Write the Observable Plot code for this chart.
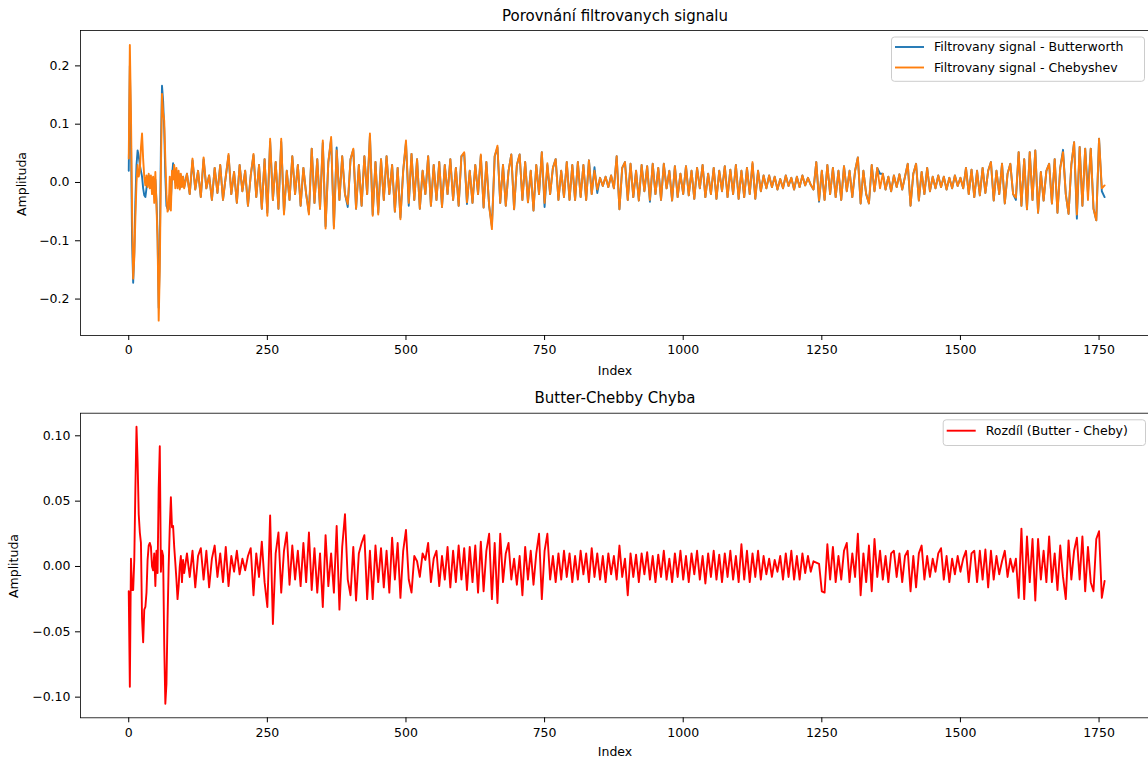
<!DOCTYPE html>
<html>
<head>
<meta charset="utf-8">
<script src="https://cdn.jsdelivr.net/npm/d3@7"></script>
<script src="https://cdn.jsdelivr.net/npm/@observablehq/plot@0.6"></script>
<style>
  body { margin: 0; background: #fff; }
  #fig { position: relative; width: 1148px; height: 758px; overflow: hidden; background: #fff; }
  #fig > svg { position: absolute; left: 0; }
  #overlay { top: 0; pointer-events: none; font-family: "DejaVu Sans", sans-serif; }
</style>
</head>
<body>
<div id="fig"></div>
<script>
// Sample positions: every 2nd sample through the onset, then every 5th
const onsetIndex = d3.range(0, 101, 2);
const bodyIndex = d3.range(105, 1761, 5);

// Chebyshev-filtered signal
const chebyOnset = [
  0.041, 0.236, 0.12, -0.05, -0.165, -0.13, -0.06, 0.0, 0.03, 0.01,
  0.02, 0.06, 0.084, 0.04, 0.01, -0.005, 0.012, -0.008, 0.015, -0.01,
  0.012, -0.02, 0.01, -0.035, 0.018, -0.04, -0.1, -0.237, -0.15, 0.02,
  0.152, 0.12, 0.106, 0.04, -0.02, -0.05, -0.045, 0.01, -0.048, 0.02,
  0.005, 0.03, -0.01, 0.025, -0.01, 0.02, -0.012, 0.015, -0.008, 0.01,
  -0.01
];
const chebyBody = [
  0.015, -0.02, 0.041, -0.012, 0.02, -0.025, 0.043, -0.01, 0.012, -0.03,
  0.025, -0.018, 0.03, -0.03, 0.01, 0.049, -0.02, 0.018, -0.035, 0.03,
  -0.015, 0.02, -0.04, 0.012, 0.049, -0.025, 0.03, -0.045, 0.04, -0.057,
  0.075, -0.03, 0.035, -0.045, 0.075, -0.055, 0.02, -0.03, 0.045, -0.02,
  0.03, -0.04, 0.025, -0.02, -0.055, 0.058, -0.035, 0.04, -0.045, 0.072,
  -0.079, 0.035, 0.078, -0.079, 0.055, -0.03, 0.045, -0.02, -0.037, 0.04,
  0.058, -0.045, 0.03, -0.04, 0.045, -0.02, 0.084, -0.057, 0.035, -0.055,
  0.04, -0.03, 0.045, -0.02, 0.03, -0.05, 0.025, -0.063, 0.02, 0.072,
  -0.035, 0.049, -0.03, 0.04, -0.045, 0.02, -0.02, 0.045, -0.04, 0.03,
  -0.03, 0.035, -0.042, 0.03, -0.02, 0.04, -0.03, 0.025, -0.04, 0.045,
  0.052, -0.034, 0.02, -0.035, 0.03, -0.02, 0.048, -0.043, 0.035, -0.04,
  -0.08, 0.045, 0.063, -0.035, 0.03, -0.04, 0.02, 0.048, -0.046, 0.03,
  0.048, -0.03, 0.035, -0.034, 0.02, -0.048, 0.03, -0.02, 0.052, -0.035,
  0.033, -0.02, 0.025, 0.04, -0.03, 0.02, -0.025, 0.035, -0.03, 0.03,
  -0.03, 0.035, -0.025, 0.03, -0.03, 0.038, -0.02, 0.02, -0.012, 0.008,
  -0.006, 0.01, -0.008, 0.012, -0.01, 0.045, -0.046, 0.025, 0.035, -0.03,
  0.032, -0.025, 0.02, -0.031, 0.03, -0.015, 0.028, -0.03, 0.032, -0.02,
  0.025, -0.03, 0.032, -0.01, 0.02, -0.031, 0.028, -0.025, 0.015, -0.02,
  0.028, -0.022, 0.02, -0.028, 0.025, -0.01, 0.03, -0.025, 0.015, -0.02,
  0.025, -0.028, 0.02, -0.015, 0.028, -0.025, 0.022, -0.02, 0.03, -0.028,
  0.02, -0.025, 0.025, -0.02, 0.035, -0.028, 0.02, -0.015, 0.012, -0.01,
  0.012, -0.008, 0.01, -0.012, 0.006, -0.01, 0.012, -0.006, 0.008, -0.012,
  0.01, -0.008, 0.012, -0.005, 0.008, -0.004, -0.012, 0.035, -0.031, 0.02,
  -0.03, 0.03, -0.02, 0.025, -0.025, 0.02, -0.03, 0.028, -0.015, 0.02,
  -0.025, 0.02, 0.043, -0.036, 0.02, -0.02, -0.036, 0.03, -0.015, 0.025,
  -0.01, 0.015, -0.012, 0.01, -0.015, 0.012, -0.008, 0.014, -0.012, 0.01,
  0.032, -0.04, 0.015, 0.032, -0.031, 0.018, -0.02, 0.025, -0.015, 0.01,
  -0.01, 0.012, -0.008, 0.01, -0.012, 0.008, -0.01, 0.012, -0.006, 0.008,
  -0.01, 0.025, -0.02, 0.022, -0.025, 0.02, -0.022, 0.025, -0.018, 0.02,
  0.035, -0.031, 0.02, -0.02, 0.032, -0.036, 0.015, 0.032, -0.02, -0.026,
  0.052, -0.04, 0.04, -0.046, 0.052, -0.03, 0.055, -0.052, 0.018, -0.031,
  0.02, 0.032, -0.036, 0.04, -0.052, 0.025, 0.052, -0.02, -0.054, 0.03,
  0.069, -0.055, 0.061, -0.04, 0.058, -0.03, 0.058, -0.045, -0.065, 0.075,
  -0.01, -0.005
];

// Butterworth-filtered signal
const butterOnset = [
  0.02, 0.2, 0.08, -0.1, -0.172, -0.12, -0.03, 0.03, 0.055, 0.045,
  0.03, 0.02, 0.01, -0.01, -0.022, -0.025, -0.01, 0.005, 0.012, 0.005,
  0.005, -0.005, 0.008, -0.02, 0.005, -0.03, -0.09, -0.215, -0.12, 0.06,
  0.166, 0.14, 0.09, 0.01, -0.04, -0.045, -0.046, -0.02, -0.03, 0.01,
  0.033, 0.01, 0.0, 0.02, -0.005, 0.015, -0.01, 0.012, -0.006, 0.01,
  -0.008
];
const butterBody = [
  0.015, -0.02, 0.038, -0.012, 0.02, -0.025, 0.04, -0.01, 0.012, -0.03,
  0.025, -0.018, 0.03, -0.03, 0.01, 0.046, -0.02, 0.018, -0.035, 0.03,
  -0.015, 0.02, -0.04, 0.012, 0.047, -0.025, 0.03, -0.045, 0.04, -0.052,
  0.07, -0.03, 0.035, -0.045, 0.07, -0.052, 0.02, -0.03, 0.045, -0.02,
  0.03, -0.04, 0.025, -0.02, -0.052, 0.058, -0.035, 0.04, -0.045, 0.068,
  -0.075, 0.035, 0.074, -0.075, 0.06, -0.03, 0.045, -0.02, -0.042, 0.04,
  0.056, -0.045, 0.03, -0.04, 0.045, -0.02, 0.08, -0.055, 0.035, -0.052,
  0.04, -0.03, 0.045, -0.02, 0.03, -0.05, 0.025, -0.06, 0.02, 0.068,
  -0.04, 0.049, -0.03, 0.04, -0.045, 0.02, -0.02, 0.045, -0.04, 0.03,
  -0.03, 0.035, -0.042, 0.03, -0.02, 0.04, -0.03, 0.025, -0.04, 0.045,
  0.05, -0.037, 0.02, -0.035, 0.03, -0.02, 0.046, -0.043, 0.035, -0.04,
  -0.075, 0.045, 0.06, -0.035, 0.03, -0.04, 0.02, 0.048, -0.046, 0.03,
  0.048, -0.03, 0.035, -0.034, 0.02, -0.048, 0.03, -0.02, 0.052, -0.042,
  0.03, -0.02, 0.025, 0.04, -0.03, 0.02, -0.025, 0.035, -0.03, 0.03,
  -0.03, 0.035, -0.025, 0.03, -0.03, 0.038, -0.02, 0.026, -0.018, 0.008,
  -0.006, 0.01, -0.008, 0.012, -0.01, 0.045, -0.046, 0.025, 0.035, -0.03,
  0.032, -0.025, 0.02, -0.031, 0.03, -0.015, 0.028, -0.033, 0.032, -0.02,
  0.025, -0.03, 0.032, -0.01, 0.02, -0.031, 0.028, -0.025, 0.015, -0.02,
  0.028, -0.022, 0.02, -0.028, 0.025, -0.01, 0.03, -0.025, 0.015, -0.02,
  0.025, -0.028, 0.02, -0.015, 0.028, -0.025, 0.022, -0.02, 0.03, -0.028,
  0.02, -0.025, 0.025, -0.02, 0.032, -0.028, 0.02, -0.015, 0.012, -0.01,
  0.012, -0.008, 0.01, -0.012, 0.006, -0.01, 0.012, -0.006, 0.008, -0.012,
  0.01, -0.008, 0.012, -0.005, 0.008, -0.004, -0.012, 0.035, -0.033, 0.02,
  -0.03, 0.03, -0.02, 0.025, -0.025, 0.02, -0.03, 0.028, -0.015, 0.02,
  -0.025, 0.02, 0.043, -0.036, 0.02, -0.02, -0.036, 0.03, -0.015, 0.025,
  0.015, 0.015, -0.012, 0.01, -0.015, 0.012, -0.008, 0.014, -0.012, 0.01,
  0.032, -0.04, 0.015, 0.032, -0.031, 0.018, -0.02, 0.025, -0.015, 0.01,
  -0.01, 0.012, -0.008, 0.01, -0.012, 0.008, -0.01, 0.012, -0.006, 0.008,
  -0.01, 0.025, -0.02, 0.022, -0.025, 0.02, -0.022, 0.025, -0.018, 0.02,
  0.035, -0.031, 0.02, -0.02, 0.032, -0.036, 0.015, 0.032, -0.02, -0.03,
  0.052, -0.04, 0.04, -0.046, 0.052, -0.03, 0.055, -0.052, 0.018, -0.031,
  0.02, 0.032, -0.036, 0.04, -0.052, 0.025, 0.056, -0.02, -0.054, 0.03,
  0.069, -0.062, 0.061, -0.04, 0.058, -0.018, 0.058, -0.045, -0.065, 0.075,
  -0.015, -0.025
];

// Difference Butterworth - Chebyshev
const diffOnset = [
  -0.019, -0.092, 0.006, -0.018, -0.018, 0.005, 0.06, 0.107, 0.08, 0.04,
  0.026, 0.018, -0.04, -0.058, -0.033, -0.031, -0.02, 0.005, 0.016, 0.018,
  0.015, 0.0, -0.003, 0.01, -0.015, 0.012, -0.005, 0.06, 0.092, -0.004,
  0.012, 0.008, -0.06, -0.105, -0.09, -0.04, 0.0, 0.03, 0.053, 0.03,
  0.031, 0.015, 0.003, -0.01, -0.025, -0.015, 0.0, 0.008, -0.012, 0.005,
  -0.005
];
const diffBody = [
  0.01, -0.008, 0.012, -0.016, 0.008, 0.014, -0.01, 0.012, -0.016, 0.006,
  0.016, -0.008, 0.01, -0.012, 0.015, -0.015, 0.008, -0.004, 0.012, -0.006,
  0.006, -0.003, 0.008, 0.014, -0.022, 0.01, -0.008, 0.019, -0.012, -0.031,
  0.039, -0.044, 0.01, 0.026, -0.02, 0.012, 0.026, -0.014, 0.016, -0.01,
  0.012, -0.015, 0.018, -0.012, 0.026, -0.018, 0.014, -0.02, 0.01, -0.031,
  0.024, -0.015, 0.01, -0.02, 0.031, -0.033, 0.015, 0.04, -0.01, -0.022,
  0.015, -0.026, 0.01, 0.018, 0.024, -0.025, 0.012, -0.025, 0.016, -0.012,
  0.014, -0.016, 0.012, -0.02, 0.022, -0.01, 0.018, -0.024, 0.012, 0.028,
  -0.01, -0.02, 0.008, 0.004, -0.008, 0.01, 0.005, 0.018, -0.012, 0.006,
  0.012, -0.015, 0.008, -0.01, 0.015, -0.016, 0.012, -0.012, 0.016, -0.01,
  0.014, -0.018, 0.015, -0.012, 0.016, -0.02, 0.019, -0.019, 0.012, 0.025,
  -0.025, 0.018, -0.028, 0.025, -0.012, 0.01, 0.018, -0.01, 0.006, -0.014,
  0.008, -0.022, 0.015, -0.01, 0.012, -0.014, 0.01, 0.025, -0.025, 0.012,
  0.025, -0.01, 0.008, -0.012, 0.01, -0.01, 0.012, -0.008, 0.01, -0.012,
  0.008, -0.01, 0.012, -0.006, 0.01, -0.012, 0.014, -0.008, 0.01, -0.01,
  0.008, -0.012, 0.01, -0.006, 0.008, -0.01, 0.016, -0.008, 0.006, -0.022,
  0.01, -0.008, 0.009, -0.012, 0.01, -0.006, 0.011, -0.01, 0.008, -0.012,
  0.009, -0.008, 0.012, -0.01, 0.006, -0.012, 0.01, -0.008, 0.012, -0.01,
  0.008, -0.012, 0.01, -0.006, 0.012, -0.01, 0.008, -0.013, 0.01, -0.008,
  0.012, -0.01, 0.009, -0.012, 0.01, -0.008, 0.012, -0.01, 0.008, -0.012,
  0.017, -0.01, 0.012, -0.012, 0.01, -0.008, 0.012, -0.01, 0.008, -0.006,
  0.006, -0.008, 0.005, -0.004, 0.008, -0.01, 0.01, -0.008, 0.012, -0.01,
  0.008, -0.01, 0.01, -0.005, 0.008, -0.004, 0.004, 0.003, 0.002, -0.019,
  -0.02, 0.017, -0.01, 0.015, -0.012, 0.008, -0.01, 0.012, 0.018, -0.012,
  0.01, -0.008, 0.025, -0.022, 0.01, -0.012, 0.016, -0.019, 0.021, -0.008,
  0.012, -0.01, 0.008, -0.012, 0.01, 0.012, -0.008, 0.01, -0.012, 0.008,
  0.012, -0.019, 0.008, -0.016, 0.01, 0.016, -0.01, 0.008, -0.008, 0.006,
  -0.004, 0.01, 0.014, -0.01, 0.008, -0.012, 0.006, -0.006, 0.008, -0.004,
  0.006, 0.012, -0.012, 0.01, 0.012, -0.012, 0.012, -0.01, 0.013, -0.016,
  0.012, -0.01, 0.008, -0.006, 0.004, 0.012, -0.008, 0.006, -0.004, 0.006,
  -0.024, 0.029, -0.025, 0.023, -0.012, 0.021, -0.026, 0.021, -0.01, 0.012,
  -0.012, 0.023, -0.012, 0.01, -0.018, 0.016, -0.008, -0.025, 0.02, -0.01,
  0.012, 0.022, -0.01, 0.023, -0.019, 0.015, -0.012, -0.019, 0.021, 0.027,
  -0.024, -0.011
];

// Axis ticks
const xTicks = [0, 250, 500, 750, 1000, 1250, 1500, 1750];
const topYTicks = [-0.2, -0.1, 0.0, 0.1, 0.2];
const bottomYTicks = [-0.10, -0.05, 0.00, 0.05, 0.10];

// Text
const topTitle = "Porovnání filtrovanych signalu";
const bottomTitle = "Butter-Chebby Chyba";
const xLabel = "Index";
const yLabel = "Amplituda";
const seriesNames = ["Filtrovany signal - Butterworth", "Filtrovany signal - Chebyshev", "Rozdíl (Butter - Cheby)"];
const colors = ["#1f77b4", "#ff7f0e", "#ff0000"];

const index = [...onsetIndex, ...bodyIndex];
const cheby = [...chebyOnset, ...chebyBody];
const butter = [...butterOnset, ...butterBody];
const diff = [...diffOnset, ...diffBody];
const rows = index.map((i, k) => ({index: i, butter: butter[k], cheby: cheby[k], diff: diff[k]}));

const font = "DejaVu Sans, sans-serif";
const lineWidth = 1.9;
const baseStyle = {fontFamily: font, fontSize: "12.5px", color: "#000", background: "transparent", maxWidth: "none"};
const xScale = {domain: [-87, 1850], ticks: xTicks, tickFormat: d3.format("d"), tickSize: 5, tickPadding: 5, label: null};

const topPlot = Plot.plot({
  width: 1155, height: 380,
  marginTop: 30, marginBottom: 45, marginLeft: 80, marginRight: 1,
  style: baseStyle,
  x: xScale,
  y: {domain: [-0.2625, 0.2607], ticks: topYTicks, tickFormat: d3.format(".1f"), tickSize: 5, tickPadding: 6, label: null},
  marks: [
    Plot.line(rows, {x: "index", y: "butter", stroke: colors[0], strokeWidth: lineWidth}),
    Plot.line(rows, {x: "index", y: "cheby", stroke: colors[1], strokeWidth: lineWidth}),
    Plot.frame({stroke: "#000", strokeWidth: 0.8})
  ]
});
topPlot.style.top = "0px";

const bottomPlot = Plot.plot({
  width: 1155, height: 378,
  marginTop: 32.7, marginBottom: 40.7, marginLeft: 80, marginRight: 1,
  style: baseStyle,
  x: xScale,
  y: {domain: [-0.1158, 0.1173], ticks: bottomYTicks, tickFormat: d3.format(".2f"), tickSize: 5, tickPadding: 5, label: null},
  marks: [
    Plot.line(rows, {x: "index", y: "diff", stroke: colors[2], strokeWidth: lineWidth}),
    Plot.frame({stroke: "#000", strokeWidth: 0.8})
  ]
});
bottomPlot.style.top = "380px";

const fig = document.getElementById("fig");
fig.append(topPlot, bottomPlot);

// Titles, axis labels and legends
const svg = d3.select(fig).append("svg")
  .attr("id", "overlay").attr("width", 1148).attr("height", 758)
  .style("font-family", font).attr("fill", "#000");

function label(x, y, text, size, rotate) {
  const t = svg.append("text").attr("text-anchor", "middle").attr("font-size", size).text(text);
  if (rotate) t.attr("transform", `translate(${x},${y}) rotate(-90)`);
  else t.attr("x", x).attr("y", y);
}
label(615, 20.7, topTitle, 15);
label(615, 375, xLabel, 12.5);
label(26, 184, yLabel, 12.5, true);
label(615, 402.7, bottomTitle, 15);
label(615, 756, xLabel, 12.5);
label(17.7, 566, yLabel, 12.5, true);

function legend(x, y, w, h, entries) {
  svg.append("rect").attr("x", x + 0.5).attr("y", y + 0.5).attr("width", w).attr("height", h)
    .attr("rx", 3).attr("fill", "#fff").attr("fill-opacity", 0.8).attr("stroke", "#cccccc").attr("stroke-width", 1);
  entries.forEach(([name, color, cy]) => {
    svg.append("line").attr("x1", x + 4).attr("x2", x + 33).attr("y1", cy).attr("y2", cy)
      .attr("stroke", color).attr("stroke-width", lineWidth);
    svg.append("text").attr("x", x + 43).attr("y", cy + 4.2).attr("font-size", 12.5).text(name);
  });
}
legend(891, 36.5, 253, 44.3, [[seriesNames[0], colors[0], 47], [seriesNames[1], colors[1], 67.5]]);
legend(942.7, 419.3, 202.3, 25.7, [[seriesNames[2], colors[2], 430.7]]);
</script>
</body>
</html>
